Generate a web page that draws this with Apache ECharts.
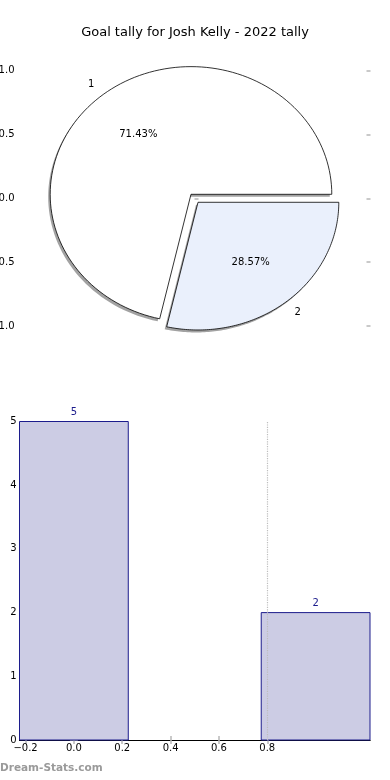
<!DOCTYPE html>
<html><head><meta charset="utf-8">
<script src="https://cdn.jsdelivr.net/npm/echarts@6/dist/echarts.min.js"></script>
<style>html,body{margin:0;padding:0;background:#fff}#c{width:390px;height:780px}</style>
</head><body><div id="c"></div>
<script>
// ---- data ----
const titleText = 'Goal tally for Josh Kelly - 2022 tally';
const pieLabels = ['1', '2'];
const pieValues = [5, 2];
const pieYTicks = [-1, -0.5, 0, 0.5, 1];
const barPositions = [0, 1];
const barValues = [5, 2];
const barXTicks = [-0.2, 0, 0.2, 0.4, 0.6, 0.8];
const barYTicks = [0, 1, 2, 3, 4, 5];
const gridLineX = [0.8];
const watermark = 'Dream-Stats.com';

// ---- styles ----
const FONT = 'DejaVu Sans';
const pieFills = ['#ffffff', '#eaf0fc'];
const explode = 0.04;
const barWidth = 0.45;
const barFill = '#ccccE4';
const barEdge = '#1c1c8c';
const tickGray = '#b8b8b8';

const fmt1 = v => v.toFixed(1).replace('-', '\u2212');
const total = pieValues.reduce((a, b) => a + b, 0);
let acc = 0;
const pieData = pieValues.map((v, i) => {
  const s = acc / total * 360; acc += v; const e = acc / total * 360;
  return [i, s, e, v / total * 100];
});

const chart = echarts.init(document.getElementById('c'), null, {renderer: 'canvas'});

function pieItem(params, api) {
  const i = api.value(0), s = api.value(1), e = api.value(2), pct = api.value(3);
  const mid = (s + e) / 2 * Math.PI / 180;
  const ox = explode * Math.cos(mid), oy = explode * Math.sin(mid);
  const pts = [api.coord([ox, oy])];
  const n = 120;
  for (let k = 0; k <= n; k++) {
    const a = (s + (e - s) * k / n) * Math.PI / 180;
    pts.push(api.coord([ox + Math.cos(a), oy + Math.sin(a)]));
  }
  const shadowPts = pts.map(p => [p[0] - 2, p[1] + 2.5]);
  const lp = api.coord([ox + 1.1 * Math.cos(mid), oy + 1.1 * Math.sin(mid)]);
  const pp = api.coord([ox + 0.6 * Math.cos(mid), oy + 0.6 * Math.sin(mid)]);
  return {
    type: 'group',
    children: [
      {type: 'polygon', z2: 1, shape: {points: shadowPts}, style: {fill: 'rgba(70,70,70,0.5)', stroke: null}},
      {type: 'polygon', z2: 10, shape: {points: pts}, style: {fill: pieFills[i], stroke: '#000', lineWidth: 0.8}},
      {type: 'text', z2: 20, x: lp[0], y: lp[1], style: {text: pieLabels[i], fill: '#000', font: '10px ' + FONT,
        align: Math.cos(mid) < 0 ? 'right' : 'left', verticalAlign: 'middle'}},
      {type: 'text', z2: 20, x: pp[0], y: pp[1], style: {text: pct.toFixed(2) + '%', fill: '#000', font: '10px ' + FONT,
        align: 'center', verticalAlign: 'middle'}}
    ]
  };
}

function barItem(params, api) {
  const x = api.value(0), v = api.value(1);
  const p0 = api.coord([x - barWidth / 2, v]);
  const p1 = api.coord([x + barWidth / 2, 0]);
  const top = api.coord([x, v]);
  return {
    type: 'group',
    children: [
      {type: 'rect', z2: 5, shape: {x: p0[0], y: p0[1], width: p1[0] - p0[0], height: p1[1] - p0[1]},
        style: {fill: barFill, stroke: barEdge, lineWidth: 1}},
      {type: 'text', z2: 20, x: top[0], y: top[1] - 9, style: {text: String(v), fill: barEdge, font: '10px ' + FONT,
        align: 'center', verticalAlign: 'middle'}}
    ]
  };
}

const tickStyle = (vals, show) => ({show: show, inside: true, length: 4, customValues: vals, lineStyle: {color: tickGray, width: 1.5}});

const option = {
  animation: false,
  backgroundColor: '#fff',
  title: {text: titleText, left: 'center', top: 21, textStyle: {fontFamily: FONT, fontSize: 13, fontWeight: 'normal', color: '#000'}},
  graphic: [{type: 'text', left: 0, top: 763, style: {text: watermark, fill: '#9a9a9a', font: 'bold 10.5px ' + FONT}}],
  grid: [
    {left: 18.5, right: 19.5, top: 38.7, height: 319.2, outerBoundsMode: 'none', containLabel: false},
    {left: 19.5, right: 20, top: 421.5, bottom: 40, outerBoundsMode: 'none', containLabel: false}
  ],
  xAxis: [
    {gridIndex: 0, type: 'value', min: -1.25, max: 1.25, show: false},
    {gridIndex: 1, type: 'value', min: -0.225, max: 1.225, position: 'bottom',
      axisLine: {show: true, lineStyle: {color: '#000', width: 1}},
      axisTick: tickStyle(barXTicks, true),
      axisLabel: {customValues: barXTicks, formatter: fmt1, margin: 3, fontFamily: FONT, fontSize: 10, color: '#000'},
      splitLine: {show: false}},
    {gridIndex: 1, type: 'value', min: -0.225, max: 1.225, position: 'top',
      axisLine: {show: true, lineStyle: {color: '#000', width: 1}},
      axisTick: tickStyle(barXTicks, true), axisLabel: {show: false}, splitLine: {show: false}}
  ],
  yAxis: [
    {gridIndex: 0, type: 'value', min: -1.25, max: 1.25, position: 'left',
      axisLine: {show: false}, axisTick: tickStyle(pieYTicks, true),
      axisLabel: {customValues: pieYTicks, formatter: fmt1, margin: 4, fontFamily: FONT, fontSize: 10, color: '#000'},
      splitLine: {show: false}},
    {gridIndex: 0, type: 'value', min: -1.25, max: 1.25, position: 'right',
      axisLine: {show: false}, axisTick: tickStyle(pieYTicks, true), axisLabel: {show: false}, splitLine: {show: false}},
    {gridIndex: 1, type: 'value', min: 0, max: 5, interval: 1, position: 'left',
      axisLine: {show: true, lineStyle: {color: '#000', width: 1}},
      axisTick: tickStyle(barYTicks, true),
      axisLabel: {customValues: barYTicks, margin: 3, fontFamily: FONT, fontSize: 10, color: '#000'},
      splitLine: {show: false}},
    {gridIndex: 1, type: 'value', min: 0, max: 5, interval: 1, position: 'right',
      axisLine: {show: true, lineStyle: {color: '#000', width: 1}},
      axisTick: tickStyle(barYTicks, true), axisLabel: {show: false}, splitLine: {show: false}}
  ],
  series: [
    {type: 'custom', xAxisIndex: 0, yAxisIndex: 0, renderItem: pieItem, data: pieData,
      dimensions: ['i', 'start', 'end', 'pct'], encode: {x: 0, y: 0}},
    {type: 'custom', xAxisIndex: 1, yAxisIndex: 2, renderItem: barItem,
      data: barPositions.map((x, i) => [x, barValues[i]])},
    {type: 'line', xAxisIndex: 1, yAxisIndex: 2, data: [], z: 10,
      markLine: {silent: true, symbol: 'none', label: {show: false},
        lineStyle: {color: '#bdbdbd', type: 'dotted', width: 1.2},
        data: gridLineX.map(x => ({xAxis: x}))}}
  ]
};
chart.setOption(option);
</script></body></html>
